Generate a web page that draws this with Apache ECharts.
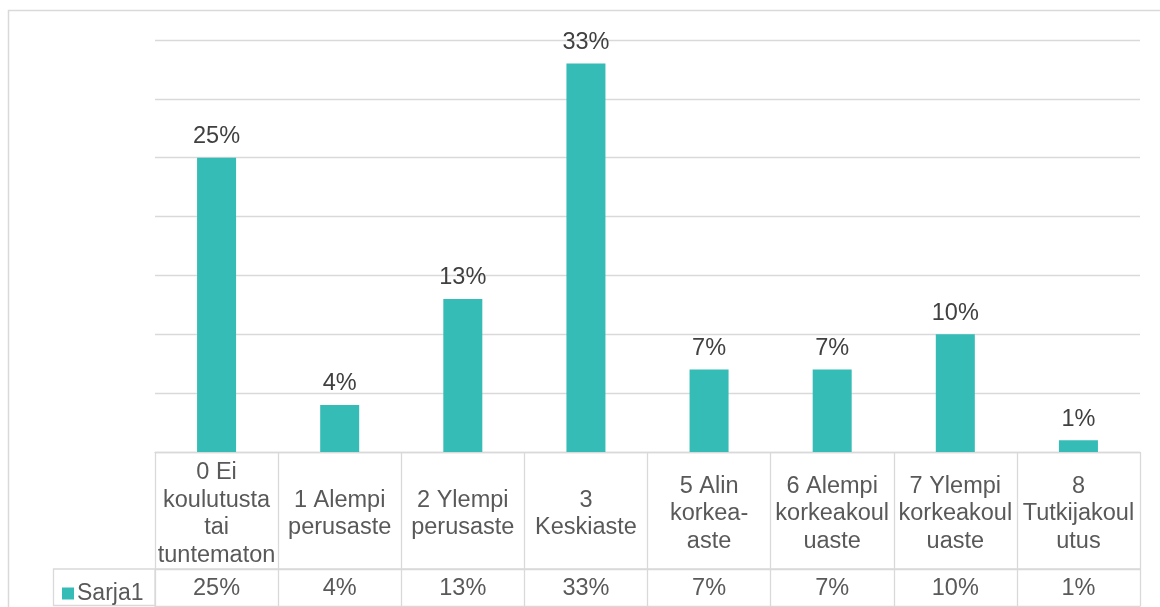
<!DOCTYPE html>
<html>
<head>
<meta charset="utf-8">
<script src="https://cdn.jsdelivr.net/npm/echarts@6/dist/echarts.min.js"></script>
<style>
html,body{margin:0;padding:0;background:#fff;}
#chart{width:1160px;height:607px;}
</style>
</head>
<body>
<div id="chart"></div>
<script>
// Data
const categories = [
  "0 Ei koulutusta tai tuntematon",
  "1 Alempi perusaste",
  "2 Ylempi perusaste",
  "3 Keskiaste",
  "5 Alin korkea-aste",
  "6 Alempi korkeakouluaste",
  "7 Ylempi korkeakouluaste",
  "8 Tutkijakoulutus"
];
const tickLabels = [
  "0 Ei\nkoulutusta\ntai\ntuntematon",
  "1 Alempi\nperusaste",
  "2 Ylempi\nperusaste",
  "3\nKeskiaste",
  "5 Alin\nkorkea-\naste",
  "6 Alempi\nkorkeakoul\nuaste",
  "7 Ylempi\nkorkeakoul\nuaste",
  "8\nTutkijakoul\nutus"
];
const seriesName = "Sarja1";
const values = [25, 4, 13, 33, 7, 7, 10, 1];

const FONT = '"Liberation Sans", Arial, sans-serif';
const LINE = '#d9d9d9';
const TXT = '#595959';
const BAR = '#35bcb6';

const chart = echarts.init(document.getElementById('chart'), null, {renderer: 'canvas'});
chart.setOption({
  animation: false,
  backgroundColor: '#fff',
  textStyle: {fontFamily: FONT},
  grid: [
    {left: 155, width: 985, top: 40, height: 412},
    {left: 155, width: 985, top: 452, height: 154},
    {left: 155, width: 985, top: 569, height: 37}
  ],
  legend: {
    data: [seriesName],
    left: 57, top: 577,
    icon: 'rect', itemWidth: 12, itemHeight: 12, itemGap: 4,
    textStyle: {fontFamily: FONT, fontSize: 23, color: TXT, padding: [0,0,0,-2]}
  },
  xAxis: [
    {
      gridIndex: 0, type: 'category', data: tickLabels,
      axisLine: {show: true, onZero: false, lineStyle: {color: LINE, width: 1.3}},
      axisTick: {show: false},
      axisLabel: {
        interval: 0, margin: 62, verticalAlign: 'middle',
        fontFamily: FONT, fontSize: 23.5, lineHeight: 27.5, color: TXT, align: 'center'
      },
      splitLine: {show: false}
    },
    {
      gridIndex: 1, type: 'category', data: categories,
      axisLine: {show: true, onZero: false, lineStyle: {color: LINE, width: 1.3}},
      axisTick: {show: false},
      axisLabel: {show: false},
      splitLine: {show: true, interval: 0, lineStyle: {color: LINE, width: 1.3}}
    },
    {
      gridIndex: 2, type: 'category', position: 'top',
      data: values.map(v => v + '%'),
      axisLine: {show: true, onZero: false, lineStyle: {color: LINE, width: 1.3}},
      axisTick: {show: false},
      axisLabel: {
        interval: 0, inside: true, margin: 20, verticalAlign: 'middle',
        fontFamily: FONT, fontSize: 23.5, color: TXT
      },
      splitLine: {show: false}
    }
  ],
  yAxis: [
    {
      gridIndex: 0, type: 'value', min: 0, max: 35, interval: 5,
      axisLine: {show: false}, axisTick: {show: false}, axisLabel: {show: false},
      splitLine: {show: true, lineStyle: {color: LINE, width: 1.3}}
    },
    {gridIndex: 1, type: 'value', min: 0, max: 1, show: false, splitLine: {show: false}},
    {gridIndex: 2, type: 'value', min: 0, max: 1, show: false, splitLine: {show: false}}
  ],
  series: [
    {
      name: seriesName, type: 'bar', xAxisIndex: 0, yAxisIndex: 0,
      data: values, barWidth: 39,
      itemStyle: {color: BAR},
      label: {
        show: true, position: 'top', distance: 9,
        formatter: p => p.value + '%',
        fontFamily: FONT, fontSize: 23.5, color: '#404040'
      }
    }
  ],
  graphic: [
    {type: 'rect', silent: true, shape: {x: 8.5, y: 10.5, width: 1300, height: 700},
      style: {fill: 'none', stroke: LINE, lineWidth: 1.5}},
    {type: 'rect', silent: true, shape: {x: 53.5, y: 569, width: 101.5, height: 36.5},
      style: {fill: 'none', stroke: LINE, lineWidth: 1.3}},
    {type: 'line', silent: true, shape: {x1: 155, y1: 569, x2: 1140, y2: 569},
      style: {stroke: LINE, lineWidth: 1.3}}
  ]
});
</script>
</body>
</html>
